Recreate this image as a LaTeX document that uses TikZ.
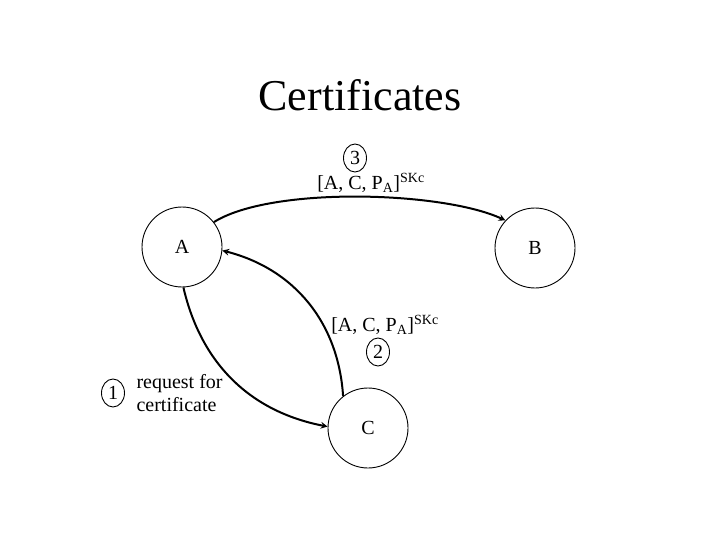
\documentclass[tikz,border=0pt]{standalone}
\usepackage{fontspec}
\setmainfont{Liberation Serif}
\usetikzlibrary{shapes.geometric}

\begin{document}
\begin{tikzpicture}[x=1pt, y=-1pt, >=stealth, font=\fontsize{20}{23}\selectfont]
\useasboundingbox (0,0) rectangle (720,540);
\tikzset{party/.style={draw, circle, minimum size=80pt, inner sep=0pt, line width=0.9pt},
  stepno/.style={draw, ellipse, inner sep=0pt, minimum width=23pt, minimum height=28pt, line width=0.9pt},
  msg/.style={->, line width=2pt}}
\node[font=\fontsize{44}{50}\selectfont] (title) at (360,95) {Certificates};
\node[party] (A) at (182,247) {A};
\node[party] (B) at (535,248) {B};
\node[party] (C) at (368,428) {C};
\node[stepno] (n3) at (355,158) {3};
\node (t3) at (371,183) {[A, C, P\textsubscript{A}]\textsuperscript{SKc}};
\node (t2) at (385,325) {[A, C, P\textsubscript{A}]\textsuperscript{SKc}};
\node[stepno] (n2) at (378,352) {2};
\node[stepno] (n1) at (113,393) {1};
\node[align=left, anchor=west] (req) at (133,393) {request for\\certificate};
\draw[msg] (A.38) to[out=32, in=155, looseness=0.6] (B.137);
\draw[msg] (C.128) to[bend right=36] (A.-5);
\draw[msg] (A.-88) to[bend right=33] (C.178);
\end{tikzpicture}
\end{document}
